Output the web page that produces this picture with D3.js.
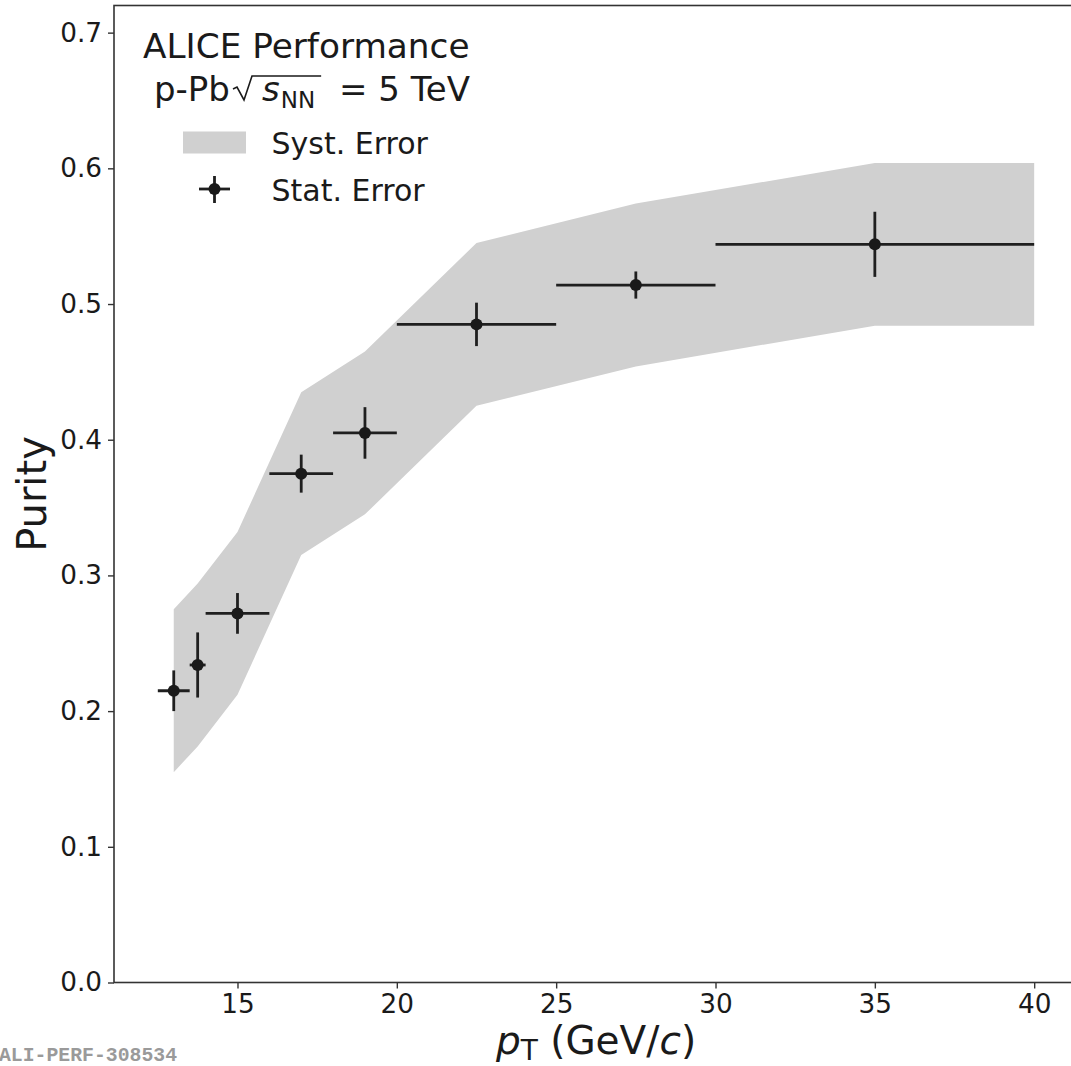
<!DOCTYPE html>
<html>
<head>
<meta charset="utf-8">
<script src="https://cdn.jsdelivr.net/npm/d3@7"></script>
<style>
  body { margin: 0; background: #fff; }
  text { font-family: "DejaVu Sans", sans-serif; fill: #1a1a1a; white-space: pre; }
</style>
</head>
<body>
<div id="chart"></div>
<script>
// data
var ptCenter   = [13, 13.75, 15, 17, 19, 22.5, 27.5, 35];
var ptHalfBin  = [0.5, 0.25, 1, 1, 1, 2.5, 2.5, 5];
var purity     = [0.215, 0.234, 0.272, 0.375, 0.405, 0.485, 0.514, 0.544];
var statErr    = [0.015, 0.024, 0.015, 0.014, 0.019, 0.016, 0.010, 0.024];

// systematic band edges
var bandPt     = [13, 13.75, 15, 17, 19, 22.5, 27.5, 35, 40];
var bandUpper  = [0.275, 0.294, 0.332, 0.435, 0.465, 0.545, 0.574, 0.604, 0.604];
var bandLower  = [0.155, 0.174, 0.212, 0.315, 0.345, 0.425, 0.454, 0.484, 0.484];

var xTicks = [15, 20, 25, 30, 35, 40];
var yTicks = [0, 0.1, 0.2, 0.3, 0.4, 0.5, 0.6, 0.7];

var W = 1071, H = 1066;
var plotL = 114, plotR = 1078, plotT = 5.5, plotB = 982.5;

var svg = d3.select("#chart")
  .append("svg")
    .attr("width", W)
    .attr("height", H)
    .style("display", "block");

svg.append("rect").attr("width", W).attr("height", H).attr("fill", "#fff");

var x = d3.scaleLinear().domain([11.125, 41.375]).range([plotL, plotR]);
var y = d3.scaleLinear().domain([0, 0.72]).range([plotB, plotT]);

// syst band
var bandData = bandPt.map(function(p, i) { return {pt: p, lo: bandLower[i], hi: bandUpper[i]}; });
svg.append("path")
  .datum(bandData)
  .attr("d", d3.area()
    .x(function(d) { return x(d.pt); })
    .y0(function(d) { return y(d.lo); })
    .y1(function(d) { return y(d.hi); }))
  .attr("fill", "#d0d0d0");

// stat error bars
var points = ptCenter.map(function(p, i) {
  return {pt: p, dx: ptHalfBin[i], v: purity[i], e: statErr[i]};
});
var g = svg.append("g").attr("stroke", "#1f1f1f").attr("stroke-width", 2.8);
g.selectAll(".hbar")
  .data(points)
  .enter().append("line")
    .attr("x1", function(d) { return x(d.pt - d.dx); })
    .attr("x2", function(d) { return x(d.pt + d.dx); })
    .attr("y1", function(d) { return y(d.v); })
    .attr("y2", function(d) { return y(d.v); });
g.selectAll(".vbar")
  .data(points)
  .enter().append("line")
    .attr("x1", function(d) { return x(d.pt); })
    .attr("x2", function(d) { return x(d.pt); })
    .attr("y1", function(d) { return y(d.v - d.e); })
    .attr("y2", function(d) { return y(d.v + d.e); });
svg.selectAll(".dot")
  .data(points)
  .enter().append("circle")
    .attr("cx", function(d) { return x(d.pt); })
    .attr("cy", function(d) { return y(d.v); })
    .attr("r", 6)
    .attr("fill", "#1a1a1a");

// axes
var xAxis = svg.append("g")
  .attr("transform", "translate(0," + plotB + ")")
  .call(d3.axisBottom(x).tickValues(xTicks).tickFormat(d3.format("d")).tickSize(6).tickPadding(6));
var yAxis = svg.append("g")
  .attr("transform", "translate(" + plotL + ",0)")
  .call(d3.axisLeft(y).tickValues(yTicks).tickFormat(d3.format(".1f")).tickSize(6).tickPadding(6));
[xAxis, yAxis].forEach(function(a) {
  a.select(".domain").remove();
  a.selectAll(".tick line").attr("stroke", "#333").attr("stroke-width", 1.4);
  a.selectAll(".tick text")
    .attr("font-family", null)
    .attr("font-size", null)
    .style("font-family", "DejaVu Sans")
    .style("font-size", "26.3px")
    .attr("fill", "#1a1a1a");
});

// frame
svg.append("rect")
  .attr("x", plotL).attr("y", plotT)
  .attr("width", plotR - plotL).attr("height", plotB - plotT)
  .attr("fill", "none")
  .attr("stroke", "#333")
  .attr("stroke-width", 1.6);

// axis titles
svg.append("text")
  .attr("transform", "translate(46," + ((plotT + plotB) / 2) + ") rotate(-90)")
  .attr("text-anchor", "middle")
  .style("font-size", "40px")
  .text("Purity");

var xl = svg.append("text")
  .attr("x", (plotL + plotR) / 2)
  .attr("y", 1054)
  .attr("text-anchor", "middle")
  .style("font-size", "39px");
xl.append("tspan").style("font-style", "italic").text("p");
xl.append("tspan").attr("dy", 6).style("font-size", "28px").text("T");
xl.append("tspan").attr("dy", -6).text(" (GeV/");
xl.append("tspan").style("font-style", "italic").text("c");
xl.append("tspan").text(")");

// watermark
svg.append("text")
  .attr("x", -1)
  .attr("y", 1061)
  .style("font-family", "'Liberation Mono', 'Courier New', monospace")
  .style("font-weight", "bold")
  .style("font-size", "19.8px")
  .style("fill", "#9a9a9a")
  .text("ALI-PERF-308534");

// legend title
svg.append("text")
  .attr("x", 143).attr("y", 58)
  .style("font-size", "34.3px")
  .text("ALICE Performance");

// second line: p-Pb sqrt(s_NN) = 5 TeV, placed piece by piece
var ly = 101;
function piece(str, px, size, style, dy) {
  var t = svg.append("text")
    .attr("x", px).attr("y", ly + (dy || 0))
    .style("font-size", size + "px")
    .style("font-style", style || "normal")
    .text(str);
  return px + t.node().getComputedTextLength();
}
piece("p-Pb", 154, 34);
var sEnd = piece("s", 262, 34, "italic");
var nnEnd = piece("NN", sEnd + 1, 23, "normal", 7);
// radical sign with its bar over s_NN
svg.append("path")
  .attr("d", "M233,89 L237,87 L244,100 L252,76 L" + (nnEnd + 6) + ",76")
  .attr("fill", "none")
  .attr("stroke", "#1a1a1a")
  .attr("stroke-width", 1.6)
  .attr("stroke-linejoin", "miter");
piece("= 5 TeV", 339, 34);

// legend entries
svg.append("rect")
  .attr("x", 183).attr("y", 131.5)
  .attr("width", 63).attr("height", 22)
  .attr("fill", "#d0d0d0");
svg.append("text")
  .attr("x", 271.5).attr("y", 154)
  .style("font-size", "30px")
  .text("Syst. Error");

var lg = svg.append("g").attr("stroke", "#1f1f1f").attr("stroke-width", 2.8);
lg.append("line").attr("x1", 199).attr("x2", 230).attr("y1", 189).attr("y2", 189);
lg.append("line").attr("x1", 214.5).attr("x2", 214.5).attr("y1", 176).attr("y2", 203);
svg.append("circle").attr("cx", 214.5).attr("cy", 189).attr("r", 6).attr("fill", "#1a1a1a");
svg.append("text")
  .attr("x", 271.5).attr("y", 201)
  .style("font-size", "30px")
  .text("Stat. Error");
</script>
</body>
</html>
